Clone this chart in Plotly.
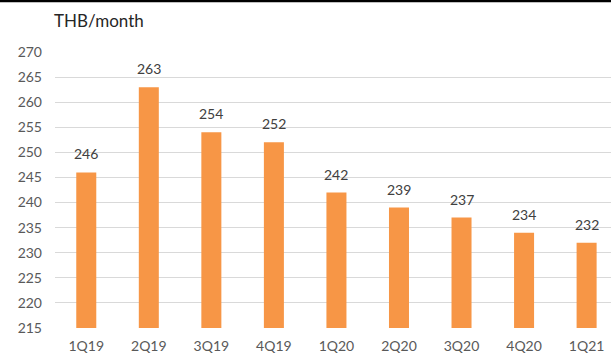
import plotly.graph_objects as go

quarters = ["1Q19", "2Q19", "3Q19", "4Q19", "1Q20", "2Q20", "3Q20", "4Q20", "1Q21"]
thb_per_month = [246, 263, 254, 252, 242, 239, 237, 234, 232]
y_ticks = list(range(215, 271, 5))

x_pos = list(range(len(quarters)))

fig = go.Figure(
    go.Bar(
        x=x_pos,
        y=thb_per_month,
        width=0.32,
        marker=dict(color="#F79646", line=dict(width=0)),
        hoverinfo="x+y",
    )
)

# value labels sitting above each bar
value_labels = [
    dict(
        x=xi, y=v, xref="x", yref="y",
        text=str(v), showarrow=False,
        yanchor="bottom", yshift=8,
        font=dict(family="Lato", size=14, color="#404040"),
    )
    for xi, v in zip(x_pos, thb_per_month)
]

fig.update_layout(
    width=611,
    height=361,
    margin=dict(l=55, r=0, t=52, b=33),
    plot_bgcolor="white",
    paper_bgcolor="white",
    showlegend=False,
    font=dict(family="Lato", color="#595959"),
    xaxis=dict(
        range=[-0.5, 8.39],
        tickmode="array",
        tickvals=x_pos,
        ticktext=quarters,
        tickfont=dict(size=14, color="#595959"),
        showgrid=False,
        zeroline=False,
        showline=False,
        ticks="",
        ticklabelstandoff=8,
    ),
    yaxis=dict(
        range=[215, 270],
        tickmode="array",
        tickvals=y_ticks,
        tickfont=dict(size=14, color="#595959"),
        showgrid=True,
        gridcolor="#D9D9D9",
        gridwidth=1.3,
        zeroline=False,
        showline=False,
        ticks="",
        ticklabelstandoff=12,
    ),
    annotations=value_labels + [
        dict(
            text="THB/month",
            xref="paper", yref="paper",
            x=-0.005, y=1.0, yshift=32,
            xanchor="left", yanchor="middle",
            showarrow=False,
            font=dict(family="Lato", size=17, color="#262626"),
        )
    ],
    shapes=[
        dict(
            type="line",
            xref="paper", yref="paper",
            x0=-0.2, x1=1.1,
            y0=1 + 51 / 276, y1=1 + 51 / 276,
            line=dict(color="black", width=2.5),
            layer="above",
        )
    ],
)

fig.write_html("out.html")
